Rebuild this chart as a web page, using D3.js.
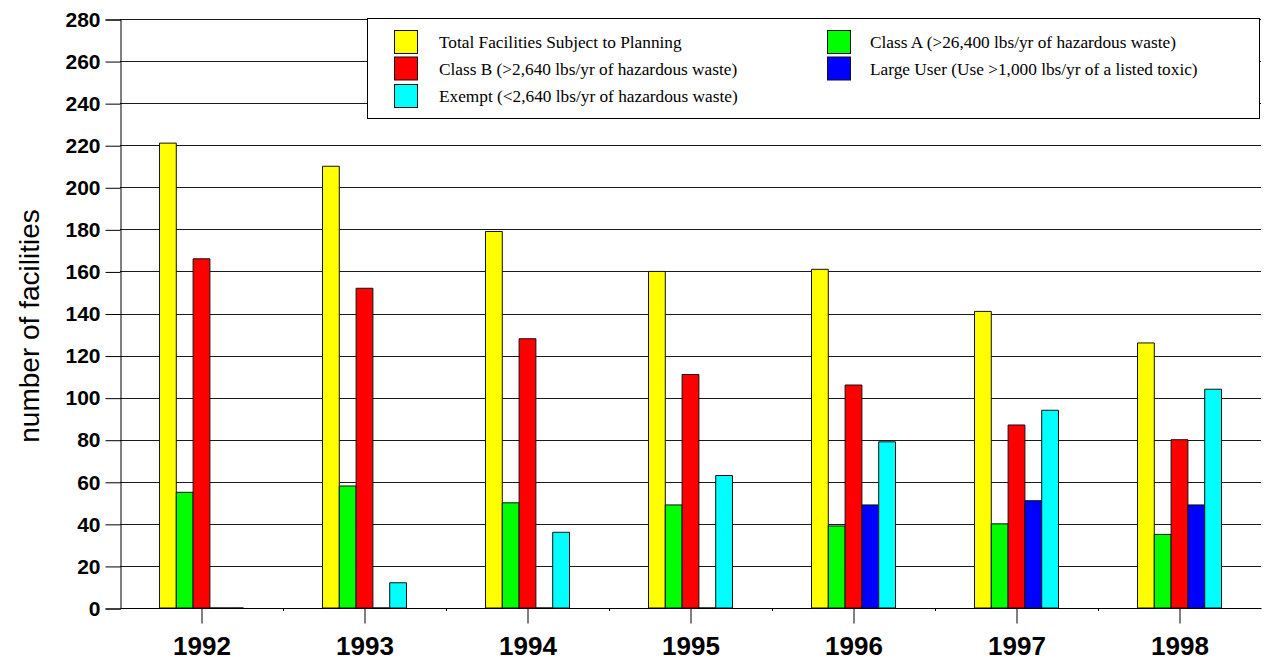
<!DOCTYPE html>
<html>
<head>
<meta charset="utf-8">
<script src="https://cdn.jsdelivr.net/npm/d3@7"></script>
<style>
  html, body { margin: 0; padding: 0; background: #fff; }
  svg { display: block; }
</style>
</head>
<body>
<svg id="chart" width="1264" height="662"></svg>
<script>
// Facilities subject to hazardous waste source reduction planning, by year
const years = ["1992", "1993", "1994", "1995", "1996", "1997", "1998"];
const totalFacilities = [221, 210, 179, 160, 161, 141, 126];
const classA = [55, 58, 50, 49, 39, 40, 35];
const classB = [166, 152, 128, 111, 106, 87, 80];
const largeUser = [0, 0, 0, 0, 49, 51, 49];
const exempt = [0, 12, 36, 63, 79, 94, 104];
const yTicks = [0, 20, 40, 60, 80, 100, 120, 140, 160, 180, 200, 220, 240, 260, 280];

const seriesNames = [
  "Total Facilities Subject to Planning",
  "Class A (>26,400 lbs/yr of hazardous waste)",
  "Class B (>2,640 lbs/yr of hazardous waste)",
  "Large User (Use >1,000 lbs/yr of a listed toxic)",
  "Exempt (<2,640 lbs/yr of hazardous waste)"
];
const seriesValues = [totalFacilities, classA, classB, largeUser, exempt];
const seriesColors = ["#ffff00", "#00ff00", "#ff0000", "#0000ff", "#00ffff"];

const svg = d3.select("#chart");
const plotLeft = 120, plotRight = 1261, plotTop = 19, plotBottom = 608;

const x = d3.scaleBand().domain(years).range([plotLeft, plotRight]).paddingInner(0).paddingOuter(0);
const x1 = d3.scaleBand().domain(d3.range(seriesNames.length))
  .range([0, x.bandwidth()]).paddingInner(0).paddingOuter(2.35);
const y = d3.scaleLinear().domain([0, 280]).range([plotBottom, plotTop]);

// horizontal gridlines
svg.append("g")
  .selectAll("line")
  .data(yTicks.filter(d => d > 0))
  .join("line")
  .attr("x1", plotLeft).attr("x2", plotRight)
  .attr("y1", d => Math.round(y(d)) + 0.5).attr("y2", d => Math.round(y(d)) + 0.5)
  .attr("stroke", "#1a1a1a").attr("stroke-width", 1);

// y axis
const yAxis = d3.axisLeft(y).tickValues(yTicks).tickSize(15).tickPadding(5);
const gy = svg.append("g").attr("transform", `translate(${plotLeft + 0.5},0.5)`).call(yAxis);
gy.select(".domain").attr("stroke", "#000");
gy.selectAll(".tick line").attr("stroke", "#000");
gy.selectAll(".tick text")
  .attr("font-family", "Liberation Sans, Arial, sans-serif")
  .attr("font-weight", "bold").attr("font-size", 21).attr("fill", "#000");

// bars (drawn as closed paths so that zero values still show as a line on the baseline)
const groups = svg.append("g")
  .selectAll("g")
  .data(years)
  .join("g")
  .attr("transform", d => `translate(${x(d)},0)`);

groups.selectAll("path")
  .data((d, i) => seriesValues.map((vals, s) => ({ s, v: vals[i] })))
  .join("path")
  .attr("d", d => {
    const x0 = x1(d.s), w = x1.bandwidth();
    return `M${x0},${y(0)}V${y(d.v)}H${x0 + w}V${y(0)}Z`;
  })
  .attr("fill", d => seriesColors[d.s])
  .attr("stroke", "#111").attr("stroke-width", 1);

// x axis
const xAxis = d3.axisBottom(x).tickSize(15).tickPadding(13);
const gx = svg.append("g").attr("transform", `translate(0.5,${plotBottom + 0.5})`).call(xAxis);
gx.select(".domain").attr("d", `M${plotLeft},0H${plotRight}`).attr("stroke", "#000");
gx.selectAll(".tick line").attr("stroke", "#000");
gx.selectAll(".tick text")
  .attr("font-family", "Liberation Sans, Arial, sans-serif")
  .attr("font-weight", "bold").attr("font-size", 26).attr("fill", "#000");

// small marks at band boundaries
svg.append("g")
  .selectAll("line")
  .data(years.slice(1))
  .join("line")
  .attr("x1", d => x(d) + 0.5).attr("x2", d => x(d) + 0.5)
  .attr("y1", plotBottom).attr("y2", plotBottom + 3)
  .attr("stroke", "#000");

// y axis title
svg.append("text")
  .attr("transform", `translate(39,326) rotate(-90)`)
  .attr("text-anchor", "middle")
  .attr("font-family", "Liberation Sans, Arial, sans-serif")
  .attr("font-size", 28).attr("fill", "#000")
  .text("number of facilities");

// legend
const legend = svg.append("g");
legend.append("rect")
  .attr("x", 367.5).attr("y", 18.5).attr("width", 892).attr("height", 100)
  .attr("fill", "#fff").attr("stroke", "#000").attr("stroke-width", 1);

const legendItems = [
  { s: 0, col: 0, row: 0 },
  { s: 2, col: 0, row: 1 },
  { s: 4, col: 0, row: 2 },
  { s: 1, col: 1, row: 0 },
  { s: 3, col: 1, row: 1 }
];
const colX = [394, 827];
const rowY = [30, 56.5, 84];

const li = legend.selectAll("g.item")
  .data(legendItems)
  .join("g").attr("class", "item")
  .attr("transform", d => `translate(${colX[d.col]},${rowY[d.row]})`);
li.append("rect")
  .attr("x", 0.5).attr("y", 0.5).attr("width", 23).attr("height", 23)
  .attr("fill", d => seriesColors[d.s]).attr("stroke", "#111");
li.append("text")
  .attr("x", d => d.col === 0 ? 45 : 43).attr("y", 18)
  .attr("font-family", "Liberation Serif, Times New Roman, serif")
  .attr("font-size", 17.3).attr("fill", "#000")
  .text(d => seriesNames[d.s]);
</script>
</body>
</html>
